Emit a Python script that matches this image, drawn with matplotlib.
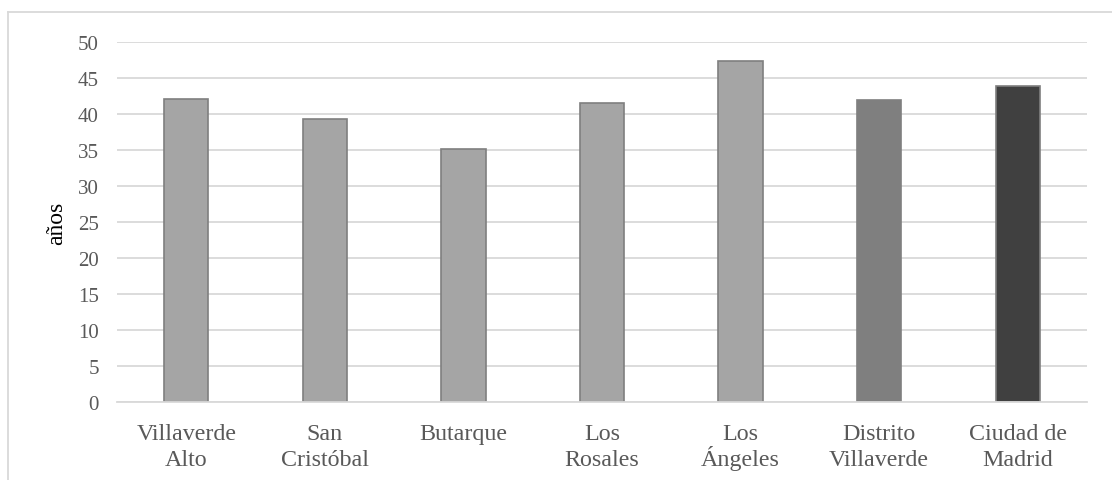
import matplotlib.pyplot as plt
from matplotlib.lines import Line2D

# edad media por barrio (años)
barrios = ["Villaverde\nAlto", "San\nCristóbal", "Butarque", "Los\nRosales",
           "Los\nÁngeles", "Distrito\nVillaverde", "Ciudad de\nMadrid"]
edad_media = [42.1, 39.3, 35.1, 41.5, 47.4, 42.0, 43.9]
colores = ["#A5A5A5", "#A5A5A5", "#A5A5A5", "#A5A5A5", "#A5A5A5", "#7F7F7F", "#404040"]
y_ticks = [0, 5, 10, 15, 20, 25, 30, 35, 40, 45, 50]

plt.rcParams['font.family'] = ['Liberation Serif', 'DejaVu Serif']

fig = plt.figure(figsize=(11.12, 4.81), dpi=100)
ax = fig.add_axes([117 / 1112, 1 - 403 / 481, 970 / 1112, 360 / 481])

x = list(range(len(barrios)))
ax.bar(x, edad_media, width=0.32, color=colores, edgecolor="#7F7F7F",
       linewidth=1.2, zorder=3)

ax.set_ylim(0, 50)
ax.set_xlim(-0.5, len(barrios) - 0.5)
ax.set_yticks(y_ticks)
ax.yaxis.grid(True, color="#D9D9D9", linewidth=1.3, zorder=0)
ax.set_axisbelow(True)

for s in ["top", "right", "left"]:
    ax.spines[s].set_visible(False)
ax.spines["bottom"].set_color("#D9D9D9")
ax.spines["bottom"].set_linewidth(1.3)
ax.spines["bottom"].set_zorder(4)

# etiquetas del eje x línea a línea, para que el acento de "Á" no desplace la línea
ax.set_xticks(x)
ax.set_xticklabels([])
ax.tick_params(axis="x", length=0)
for xi, nombre in zip(x, barrios):
    for k, linea in enumerate(nombre.split("\n")):
        ax.annotate(linea, xy=(xi, 0), xycoords=("data", "axes fraction"),
                    xytext=(0, -26.6 - 18.7 * k), textcoords="offset points",
                    ha="center", va="baseline", fontsize=17.3, color="#595959")

ax.tick_params(axis="y", length=0, pad=13, labelsize=15, labelcolor="#595959")
ax.set_ylabel("años", fontsize=17, color="black", labelpad=8)

# borde del área del gráfico
fig.add_artist(Line2D([8 / 1112, 8 / 1112], [0, 1 - 13 / 481],
                      transform=fig.transFigure, color="#D9D9D9", linewidth=1.3))
fig.add_artist(Line2D([8 / 1112, 1], [1 - 13 / 481, 1 - 13 / 481],
                      transform=fig.transFigure, color="#D9D9D9", linewidth=1.3))

fig.savefig("out.png", dpi=100)
